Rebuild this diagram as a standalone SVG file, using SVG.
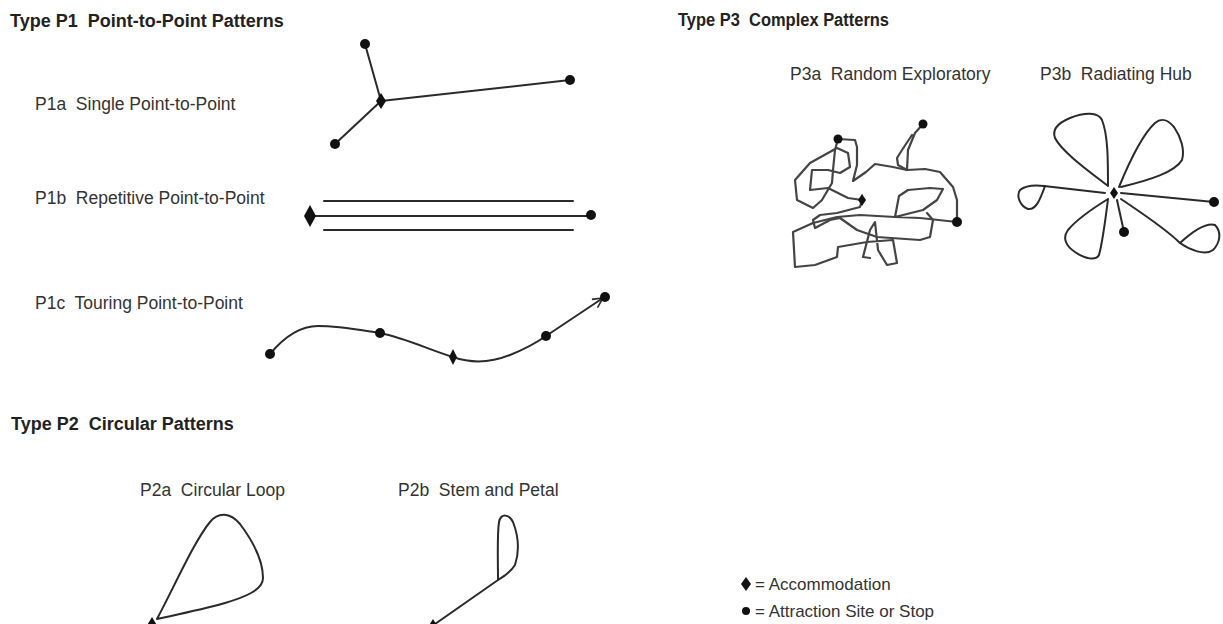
<svg xmlns="http://www.w3.org/2000/svg" width="1223" height="624" viewBox="0 0 1223 624">
<style>
.t{font-family:"Liberation Sans",Arial,sans-serif;font-weight:bold;font-size:18px;fill:#222}
.l{font-family:"Liberation Sans",Arial,sans-serif;font-size:17.5px;fill:#333}
.g{font-family:"Liberation Sans",Arial,sans-serif;font-size:17px;fill:#333}
.ln{fill:none;stroke:#2a2a2a;stroke-width:2;stroke-linejoin:round;stroke-linecap:round}
.sc{fill:none;stroke:#444;stroke-width:2.2;stroke-linejoin:round;stroke-linecap:round}
.d{fill:#111}
</style>
<defs>
<marker id="arr" viewBox="0 0 12 12" refX="11" refY="6" markerWidth="12" markerHeight="12" markerUnits="userSpaceOnUse" orient="auto">
<path d="M1,1 L11,6 L1,11" fill="none" stroke="#2a2a2a" stroke-width="1.6"/>
</marker>
</defs>
<rect width="1223" height="624" fill="#fff"/>

<g id="titles">
<text class="t" x="10" y="27" xml:space="preserve">Type P1  Point-to-Point Patterns</text>
<text class="t" x="11" y="430" xml:space="preserve">Type P2  Circular Patterns</text>
<text class="t" x="678" y="26" xml:space="preserve" textLength="211" lengthAdjust="spacingAndGlyphs">Type P3  Complex Patterns</text>
</g>

<g id="labels">
<text class="l" x="35" y="110" xml:space="preserve">P1a  Single Point-to-Point</text>
<text class="l" x="35" y="204" xml:space="preserve">P1b  Repetitive Point-to-Point</text>
<text class="l" x="35" y="309" xml:space="preserve">P1c  Touring Point-to-Point</text>
<text class="l" x="140" y="496" xml:space="preserve">P2a  Circular Loop</text>
<text class="l" x="398" y="496" xml:space="preserve">P2b  Stem and Petal</text>
<text class="l" x="790" y="80" xml:space="preserve">P3a  Random Exploratory</text>
<text class="l" x="1040" y="80" xml:space="preserve">P3b  Radiating Hub</text>
</g>

<g id="connectors">
<!-- P1a -->
<path class="ln" d="M365,44 L381,101 L570,80 M381,101 L335,144"/>
<!-- P1b -->
<path class="ln" d="M310,216 L591,216 M324,201 L573,201 M324,230 L573,230"/>
<!-- P1c -->
<path class="ln" d="M270,354 C285,336 300,326 318,326 C340,326 360,330 380,333 C405,338 430,350 453,357 C470,363 490,363 510,355 C525,349 536,343 546,336 L603,298" marker-end="url(#arr)"/>
<!-- P2a -->
<path class="ln" d="M157,619 C175,585 195,540 210,522 C218,512 230,512 240,524 C252,540 263,560 263,578 C263,590 245,597 225,603 C200,610 175,615 157,619 Z"/>
<!-- P2b -->
<path class="ln" d="M435,624 L498,580 C498,560 497,535 499,522 C501,513 509,514 513,522 C518,535 520,550 515,565 C510,573 503,577 498,580"/>
<!-- P3a scribble -->
<path class="sc" d="M838,139 L855,140 L857,147 L857,165 L853,181 L866,172 L875,164 L893,167 L907,170 L925,169 L940,172 L953,187 L957,200 L957,222 L920,218 L895,217 L899,196 L908,190 L930,188 L943,189 L937,200 L923,210 L895,217 L860,215 L837,217 L813,223 L793,232 L795,267 L815,265 L837,257 L838,247 L867,242 L893,240 L897,263 L887,265 L878,250 L875,222 L870,230 L863,257 L870,258"/>
<path class="sc" d="M927,213 L933,220 L930,237 L920,240 L877,237 L857,230 L840,218 L830,220 L815,228 L813,220 L820,215 L837,213 L860,207 L862,200"/>
<path class="sc" d="M838,139 L835,150 L833,170 L832,183 L822,200 L813,208 L797,200 L795,180 L810,163 L837,148 L848,153 L850,167 L840,173 L828,170 L812,170 L810,190 L828,188 L842,195 L848,198 L862,200"/>
<path class="sc" d="M907,170 L908,150 L915,133 L923,124 M912,135 L902,150 L897,158 L898,165 L907,170"/>
<!-- P3b -->
<path class="ln" d="M1108,186 C1108,160 1108,135 1102,120 C1098,112 1085,112 1070,118 C1058,123 1052,130 1055,138 C1062,152 1090,172 1108,186"/>
<path class="ln" d="M1119,187 C1128,165 1142,135 1155,123 C1162,117 1168,120 1174,127 C1181,137 1185,150 1182,160 C1175,172 1150,180 1121,187"/>
<path class="ln" d="M1105,193 L1044,186 C1035,185 1025,186 1020,190 C1016,196 1020,206 1028,209 C1036,210 1040,200 1045,186"/>
<path class="ln" d="M1108,199 C1095,207 1078,218 1068,230 C1062,238 1066,246 1075,252 C1085,259 1096,261 1099,255 C1103,240 1106,215 1108,199"/>
<path class="ln" d="M1117,200 L1124,232"/>
<path class="ln" d="M1121,193 L1214,202"/>
<path class="ln" d="M1121,199 C1140,212 1165,228 1180,243 C1190,250 1205,256 1213,250 C1220,243 1222,232 1215,225 C1205,222 1192,232 1180,243"/>
</g>

<g id="nodes">
<circle class="d" cx="365" cy="44" r="5"/>
<circle class="d" cx="570" cy="80" r="5"/>
<circle class="d" cx="335" cy="144" r="5"/>
<path class="d" d="M381,93 L386,101 L381,109 L376,101 Z"/>
<path class="d" d="M310,205 L316,216 L310,227 L304,216 Z"/>
<circle class="d" cx="591" cy="215" r="5"/>
<circle class="d" cx="270" cy="354" r="5"/>
<circle class="d" cx="380" cy="333" r="5"/>
<path class="d" d="M453,349 L457,357 L453,365 L449,357 Z"/>
<circle class="d" cx="546" cy="336" r="5"/>
<circle class="d" cx="605" cy="297" r="5"/>
<path class="d" d="M152,617 L158,627 L152,637 L146,627 Z"/>
<path class="d" d="M433,619 L438,627 L433,635 L428,627 Z"/>
<circle class="d" cx="838" cy="139" r="4.5"/>
<circle class="d" cx="923" cy="124" r="4.5"/>
<path class="d" d="M862,194 L866,200 L862,206 L858,200 Z"/>
<circle class="d" cx="957" cy="222" r="5"/>
<path class="d" d="M1114,187 L1118,193 L1114,199 L1110,193 Z"/>
<circle class="d" cx="1214" cy="202" r="5"/>
<circle class="d" cx="1124" cy="232" r="5"/>
</g>

<g id="legend">
<path class="d" d="M746,577 L751,584 L746,591 L741,584 Z"/>
<text class="g" x="755" y="590">= Accommodation</text>
<circle class="d" cx="746" cy="611" r="4"/>
<text class="g" x="755" y="617">= Attraction Site or Stop</text>
</g>
</svg>
